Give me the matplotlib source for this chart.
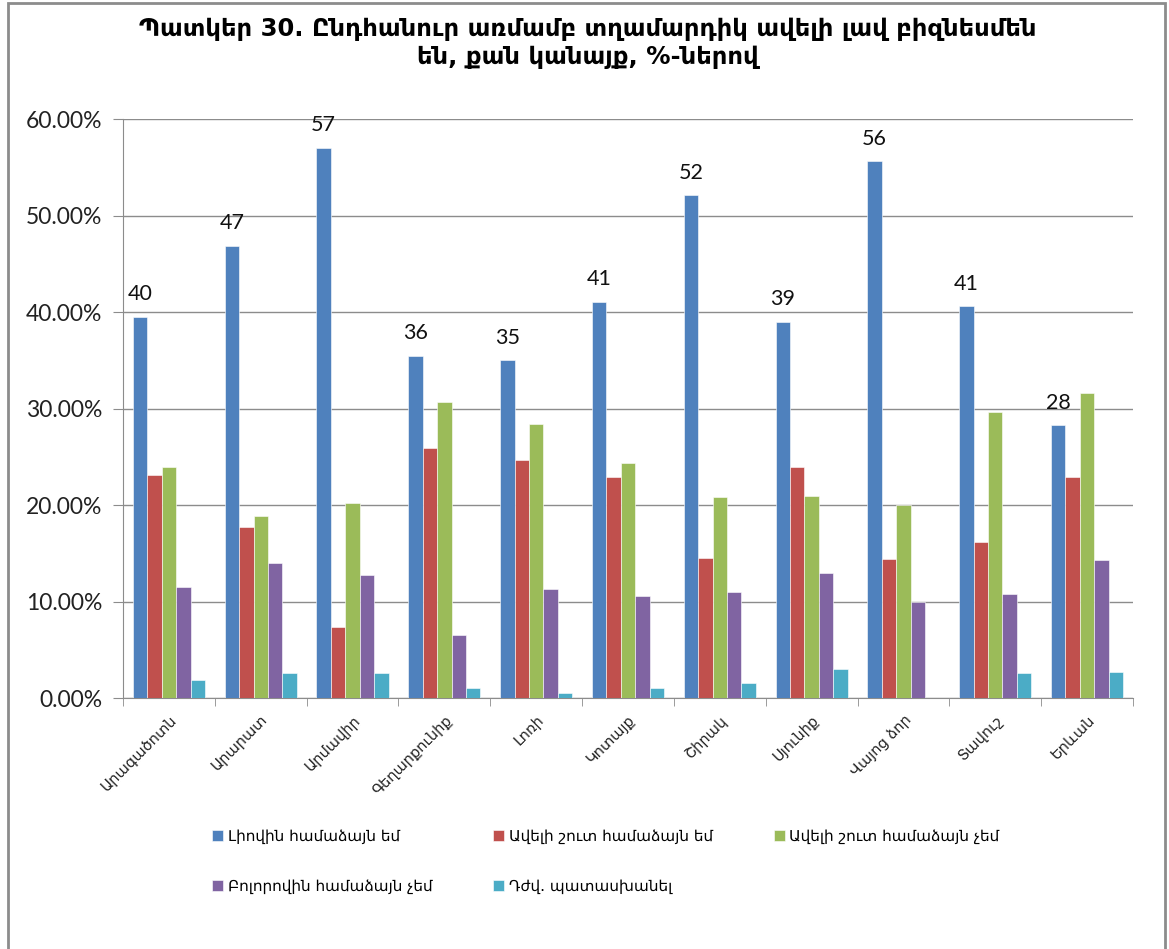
import numpy as np
import matplotlib.pyplot as plt
from matplotlib.patches import Rectangle
from matplotlib.ticker import FuncFormatter, MultipleLocator, FixedLocator

# Մարզերը և պատասխանների բաշխումը (%)
marzer = ["Արագածոտն", "Արարատ", "Արմավիր", "Գեղարքունիք", "Լոռի", "Կոտայք",
          "Շիրակ", "Սյունիք", "Վայոց ձոր", "Տավուշ", "Երևան"]

liovin_hamadzayn = [39.5, 46.9, 57.0, 35.5, 35.0, 41.1, 52.1, 39.0, 55.6, 40.6, 28.3]
aveli_shut_hamadzayn = [23.1, 17.8, 7.4, 25.9, 24.7, 22.9, 14.5, 24.0, 14.4, 16.2, 22.9]
aveli_shut_chem = [24.0, 18.9, 20.2, 30.7, 28.4, 24.4, 20.9, 21.0, 20.0, 29.7, 31.6]
bolorovin_chem = [11.5, 14.0, 12.8, 6.6, 11.3, 10.6, 11.0, 13.0, 10.0, 10.8, 14.3]
dzhvar_e = [1.9, 2.6, 2.6, 1.1, 0.6, 1.1, 1.6, 3.0, 0.0, 2.6, 2.7]

anunner = ["Լիովին համաձայն եմ", "Ավելի շուտ համաձայն եմ", "Ավելի շուտ համաձայն չեմ",
           "Բոլորովին համաձայն չեմ", "Դժվ. պատասխանել"]
guyner = ["#4F81BD", "#C0504D", "#9BBB59", "#8064A2", "#4BACC6"]

shark = [liovin_hamadzayn, aveli_shut_hamadzayn, aveli_shut_chem, bolorovin_chem, dzhvar_e]

fig = plt.figure(figsize=(11.69, 9.49), dpi=100)
ax = fig.add_axes([0.1052, 0.2640, 0.864, 0.6106])

x = np.arange(len(marzer))
w = 0.157
handles = []
for i, (arjeq, anun, guyn) in enumerate(zip(shark, anunner, guyner)):
    b = ax.bar(x + (i - 2) * w, arjeq, w, color=guyn, edgecolor="white",
               linewidth=0.4, label=anun, zorder=3)
    handles.append(b)

# թվերը կապույտ սյուների վրա
for xi, v in zip(x - 2 * w, liovin_hamadzayn):
    ax.annotate(str(int(v + 0.5)), (xi, v), xytext=(0, 9), textcoords="offset points",
                ha="center", va="bottom", fontsize=15.5, family=["Lato", "DejaVu Sans"],
                color="#111111")

ax.set_xlim(-0.5, len(marzer) - 0.5)
ax.set_ylim(0, 60)
ax.yaxis.set_major_locator(MultipleLocator(10))
ax.yaxis.set_major_formatter(FuncFormatter(lambda v, p: "%.2f%%" % v))
ax.grid(axis="y", color="#8c8c8c", linewidth=1.0, zorder=0)

ax.set_xticks(x)
ax.set_xticklabels(marzer, rotation=45, ha="right", rotation_mode="anchor",
                   fontsize=10.5, family="DejaVu Sans", color="#222222")
ax.xaxis.set_minor_locator(FixedLocator(np.arange(-0.5, len(marzer), 1.0)))
ax.tick_params(axis="x", which="major", length=0, pad=10)
ax.tick_params(axis="x", which="minor", length=6, color="#8c8c8c")
ax.tick_params(axis="y", length=7, color="#8c8c8c", pad=8, labelsize=16.5,
               labelcolor="#222222")
for lbl in ax.get_yticklabels():
    lbl.set_family(["Lato", "DejaVu Sans"])

for s in ["top", "right"]:
    ax.spines[s].set_visible(False)
for s in ["left", "bottom"]:
    ax.spines[s].set_color("#8c8c8c")

fig.text(0.503, 1 - 43 / 949, "Պատկեր 30. Ընդհանուր առմամբ տղամարդիկ ավելի լավ բիզնեսմեն\nեն, քան կանայք, %-ներով",
         ha="center", va="center", fontsize=17.5, fontweight="bold", linespacing=1.2,
         family="DejaVu Sans")

order = [0, 3, 1, 4, 2]
fig.legend([handles[k] for k in order], [anunner[k] for k in order],
           loc="upper center", bbox_to_anchor=(606 / 1169, 1 - 815 / 949), ncol=3,
           frameon=False, handlelength=0.7, handleheight=0.7,
           handletextpad=0.3, labelspacing=2.3, columnspacing=4.0,
           prop={"family": "DejaVu Sans", "size": 11})

# շրջանակը
fig.patches.append(Rectangle((8 / 1169, -0.01), 1157 / 1169, 1.0 - 3 / 949 + 0.01,
                             transform=fig.transFigure, fill=False,
                             edgecolor="#8c8c8c", linewidth=2))

fig.savefig("out.png", dpi=100)
